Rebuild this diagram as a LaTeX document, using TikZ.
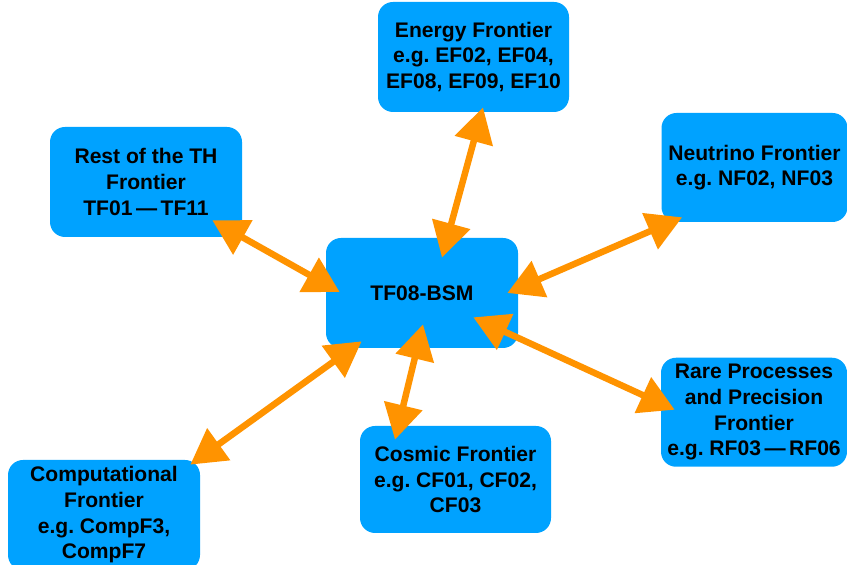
\documentclass[tikz,border=0pt]{standalone}
\usepackage{fontspec}
\setmainfont{Liberation Sans}
\usepackage{tikz}
\usetikzlibrary{
    arrows.meta,
    positioning,
    calc
}
\frenchspacing
\definecolor{boxblue}{RGB}{0,162,255}
\definecolor{linkorange}{RGB}{255,147,0}
\tikzset{
    frontier/.style = {
        rectangle,
        rounded corners=0.3cm,
        fill=boxblue,
        minimum width=3.84cm,
        minimum height=2.2cm,
        align=center,
        font=\fontsize{12}{14.6}\selectfont\bfseries
    },
    link/.style = {
        {Triangle[length=0.7cm,width=0.76cm]}-{Triangle[length=0.7cm,width=0.76cm]},
        line width=0.13cm,
        linkorange
    }
}

\begin{document}
\begin{tikzpicture}
\useasboundingbox (0,0) rectangle (16.94,11.3);
\node[frontier] (bsm) at (8.44,5.44) {TF08-BSM};
\node[frontier, minimum width=3.82cm] (ef) at (9.47,10.16) {Energy Frontier\\e.g. EF02, EF04,\\EF08, EF09, EF10};
\node[frontier] (th) at (2.92,7.66) {Rest of the TH\\Frontier\\TF01\,---\,TF11};
\node[frontier, minimum width=3.72cm, minimum height=2.18cm] (nf) at (15.09,7.95) {Neutrino Frontier\\e.g. NF02, NF03};
\node[frontier, minimum width=3.72cm, minimum height=2.18cm] (rf) at (15.08,3.055) {Rare Processes\\and Precision\\Frontier\\e.g. RF03\,---\,RF06};
\node[frontier, minimum width=3.82cm, minimum height=2.14cm] (cf) at (9.11,1.71) {Cosmic Frontier\\e.g. CF01, CF02,\\CF03};
\node[frontier] (cp) at (2.08,1.0) {Computational\\Frontier\\e.g. CompF3,\\CompF7};

% links to the hub
\draw[link] ([shift={(0.19,0.1)}]ef.south) -- ([shift={(0.4,-0.4)}]bsm.north);
\draw[link] ([shift={(-0.6,0.34)}]th.south east) -- ([shift={(0.28,0.02)}]bsm.west);
\draw[link] ([shift={(0.42,0.1)}]nf.south west) -- ([shift={(-0.22,0)}]bsm.east);
\draw[link] ([shift={(-0.9,0.62)}]bsm.south east) -- ([shift={(0.28,0.05)}]rf.west);
\draw[link] ([shift={(0.02,0.48)}]bsm.south) -- ([shift={(-1.21,-0.28)}]cf.north);
\draw[link] ([shift={(0.72,0.14)}]bsm.south west) -- ([shift={(-0.2,-0.1)}]cp.north east);
\end{tikzpicture}
\end{document}
